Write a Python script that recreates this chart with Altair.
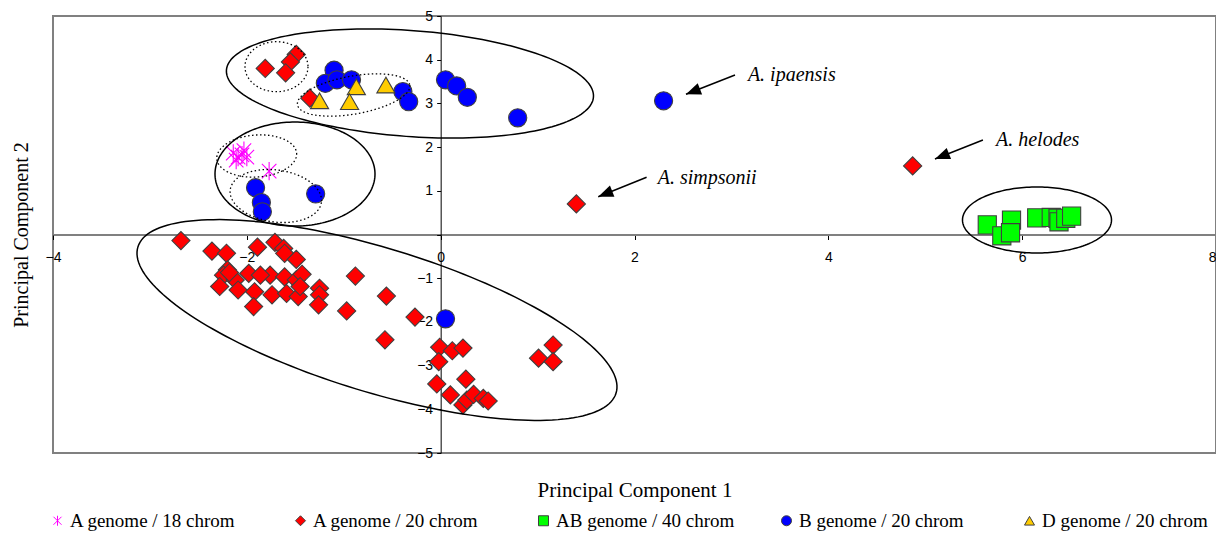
import altair as alt
import pandas as pd
import numpy as np

W, H = 1163, 437
X_DOM = [-4, 8]
Y_DOM = [-5, 5]
PX_X = W / (X_DOM[1] - X_DOM[0])
PX_Y = H / (Y_DOM[1] - Y_DOM[0])

groups = ["A genome / 18 chrom", "A genome / 20 chrom", "AB genome / 40 chrom",
          "B genome / 20 chrom", "D genome / 20 chrom"]

# A genome / 18 chrom (asterisks)
a18_x = [-2.14, -2.09, -2.05, -2.00, -2.11, -2.03, -1.77]
a18_y = [1.86, 1.77, 1.82, 1.77, 1.70, 1.92, 1.45]

# A genome / 20 chrom (diamonds)
a20_x = [-1.81, -1.49, -1.55, -1.60, -1.35, 1.40, 4.87,
         -2.68, -2.36, -2.21, -1.89, -1.71, -1.62, -1.61, -1.49, -2.20, -2.24, -2.12,
         -2.28, -2.09, -1.98, -1.92, -1.93, -1.76, -1.74, -1.61, -1.59, -1.49, -1.47,
         -1.43, -1.45, -1.25, -1.25, -1.26, -0.88, -0.97, -1.86, -2.18,
         -0.56, -0.265, -0.575, -0.01, 0.12, 0.23, -0.02, -0.04, 0.26, 0.10, 0.23,
         0.27, 0.34, 0.44, 0.49, 1.01, 1.16, 1.16]
a20_y = [3.80, 4.12, 3.95, 3.70, 3.12, 0.70, 1.57,
         -0.14, -0.38, -0.43, -0.29, -0.18, -0.32, -0.43, -0.57, -0.81, -0.93, -1.04,
         -1.19, -1.27, -0.89, -1.31, -1.65, -0.93, -1.38, -0.97, -1.35, -1.04, -1.42,
         -0.91, -1.19, -1.23, -1.38, -1.61, -0.95, -1.75, -0.93, -0.87,
         -1.41, -1.89, -2.41, -2.58, -2.66, -2.60, -2.91, -3.42, -3.31, -3.67, -3.90,
         -3.79, -3.66, -3.75, -3.81, -2.83, -2.53, -2.91]

# AB genome / 40 chrom (squares)
ab_x = [5.64, 5.89, 5.79, 5.88, 6.15, 6.30, 6.37, 6.38, 6.45, 6.51]
ab_y = [0.22, 0.33, -0.03, 0.04, 0.38, 0.39, 0.37, 0.29, 0.37, 0.42]

# B genome / 20 chrom (circles)
b_x = [-1.10, -1.19, -1.07, -0.92, -0.39, -0.33, 0.05, 0.165, 0.275, 0.795, 2.30,
       -1.91, -1.85, -1.84, -1.29, 0.05]
b_y = [3.76, 3.46, 3.54, 3.54, 3.27, 3.04, 3.54, 3.40, 3.14, 2.67, 3.06,
       1.07, 0.73, 0.52, 0.93, -1.93]

# D genome / 20 chrom (triangles)
d_x = [-1.25, -0.87, -0.94, -0.565]
d_y = [3.06, 3.38, 3.04, 3.42]

rows = []
for g, xs, ys in zip(groups, [a18_x, a20_x, ab_x, b_x, d_x], [a18_y, a20_y, ab_y, b_y, d_y]):
    rows += [{"pc1": x, "pc2": y, "group": g} for x, y in zip(xs, ys)]
pts = pd.DataFrame(rows)

# Ellipses: centre (data), semi-axes (px), rotation (deg, screen), style
ell_cx = [-0.317, -1.694, -0.898, -1.503, -1.898, -1.701, -0.657, 6.153]
ell_cy = [3.455, 3.840, 3.192, 1.384, 1.796, 0.881, -1.957, 0.332]
ell_a = [184, 31.5, 57, 80, 40, 46, 250, 74.5]
ell_b = [53, 25, 19, 52, 21, 26, 72, 33]
ell_ang = [4.2, 0, -10, 0, -4, 8, 17, 0]
ell_style = ["solid", "dotted", "dotted", "solid", "dotted", "dotted", "solid", "solid"]

erows = []
t = np.linspace(0, 2 * np.pi, 181)
for i, (cx, cy, a, b, ang, st) in enumerate(zip(ell_cx, ell_cy, ell_a, ell_b, ell_ang, ell_style)):
    th = np.radians(ang)
    dx = a * np.cos(t) * np.cos(th) - b * np.sin(t) * np.sin(th)
    dy = a * np.cos(t) * np.sin(th) + b * np.sin(t) * np.cos(th)
    for k in range(len(t)):
        erows.append({"e": i, "k": k, "style": st,
                      "pc1": cx + dx[k] / PX_X, "pc2": cy - dy[k] / PX_Y})
ell = pd.DataFrame(erows)

# Annotations
ann_text = ["A. ipaensis", "A. simpsonii", "A. helodes"]
ann_tx = [3.17, 2.24, 5.73]
ann_ty = [3.65, 1.29, 2.16]
arr_x1 = [3.037, 2.125, 5.595]
arr_y1 = [3.650, 1.309, 2.162]
arr_x2 = [2.531, 1.626, 5.100]
arr_y2 = [3.208, 0.865, 1.728]
angles = [float(np.degrees(np.arctan2(-(y2 - y1) * PX_Y, (x2 - x1) * PX_X)) % 360)
          for x1, y1, x2, y2 in zip(arr_x1, arr_y1, arr_x2, arr_y2)]
arr = pd.DataFrame({"pc1": arr_x1, "pc2": arr_y1, "x2": arr_x2, "y2": arr_y2})
heads_df = pd.DataFrame({"pc1": arr_x2, "pc2": arr_y2, "ang": angles})
ann = pd.DataFrame({"pc1": ann_tx, "pc2": ann_ty, "t": ann_text})

xscale = alt.Scale(domain=X_DOM, nice=False, zero=False)
yscale = alt.Scale(domain=Y_DOM, nice=False, zero=False)

STAR = "M-0.8,-0.8L0.8,0.8M-0.8,0.8L0.8,-0.8M0,-1L0,1"
shape_range = [STAR, "diamond", "square", "circle", "triangle-up"]
fill_range = ["#FF00FF", "#FF0000", "#00FF00", "#0000FF", "#FFCC00"]
stroke_range = ["#FF00FF", "#404040", "#404040", "#404040", "#404040"]

leg = alt.Legend(title=None, orient="none", legendX=-5, legendY=H + 58, direction="horizontal")

xaxis = alt.Axis(values=[-4, -2, 0, 2, 4, 6, 8], offset=-H / 2,
                 domainColor="#808080", domainWidth=2, tickColor="#000", tickSize=5,
                 labelPadding=11, labelFont="Liberation Sans", labelFontSize=14,
                 labelColor="#000", labelFlush=False, labelOverlap=False, grid=False,
                 labelAlign=alt.condition("datum.value == 8", alt.value("right"), alt.value("center")),
                 title="Principal Component 1", titleFont="Liberation Serif",
                 titleFontSize=21, titleFontWeight="normal", titleColor="#000",
                 titleX=W / 2, titleY=H / 2 + 37, titleAlign="center", titleBaseline="middle")
yaxis = alt.Axis(values=list(range(-5, 6)), offset=-W / 3,
                 domainColor="#000", domainWidth=1, tickColor="#000", tickSize=4,
                 labelPadding=4, labelFont="Liberation Sans", labelFontSize=14,
                 labelColor="#000", labelFlush=False, labelOverlap=False, grid=False,
                 labelExpr="datum.value == 0 ? '' : datum.label",
                 title="Principal Component 2", titleFont="Liberation Serif",
                 titleFontSize=20, titleFontWeight="normal", titleColor="#000",
                 titleX=-W / 3 - 32, titleY=H / 2, titleAlign="center", titleBaseline="middle")

X = alt.X("pc1:Q", scale=xscale, axis=xaxis)
Y = alt.Y("pc2:Q", scale=yscale, axis=yaxis)

points = alt.Chart(pts).mark_point(filled=True, opacity=1, strokeWidth=1.1, size=330).encode(
    x=X, y=Y,
    shape=alt.Shape("group:N", scale=alt.Scale(domain=groups, range=shape_range), legend=leg),
    fill=alt.Fill("group:N", scale=alt.Scale(domain=groups, range=fill_range), legend=leg),
    stroke=alt.Stroke("group:N", scale=alt.Scale(domain=groups, range=stroke_range), legend=leg),
)

ell_solid = alt.Chart(ell).transform_filter("datum.style == 'solid'").mark_line(
    color="#000", strokeWidth=1.5).encode(x=X, y=Y, detail="e:N", order="k:Q")
ell_dot = alt.Chart(ell).transform_filter("datum.style == 'dotted'").mark_line(
    color="#000", strokeWidth=1.3, strokeDash=[1.5, 2.5]).encode(x=X, y=Y, detail="e:N", order="k:Q")

shafts = alt.Chart(arr).mark_rule(color="#000", strokeWidth=1.5).encode(
    x=X, y=Y, x2="x2:Q", y2="y2:Q")
heads = alt.Chart(heads_df).mark_point(filled=True, color="#000", opacity=1, size=225,
                                       shape="M0,0L-2,-0.8L-2,0.8Z").encode(
    x=X, y=Y, angle=alt.Angle("ang:Q", scale=None))
labels = alt.Chart(ann).mark_text(align="left", baseline="middle", font="Liberation Serif",
                                  fontStyle="italic", fontSize=20, color="#000").encode(
    x=X, y=Y, text="t:N")

chart = alt.layer(points, ell_solid, ell_dot, shafts, heads, labels).properties(
    width=W, height=H,
    padding={"left": 45, "top": 8, "right": 0, "bottom": 79},
    autosize=alt.AutoSizeParams(type="none"),
    background="white",
).configure_view(stroke="#808080", strokeWidth=2).configure_legend(
    symbolSize=100, symbolStrokeWidth=1, labelFont="Liberation Serif",
    labelFontSize=19, labelColor="#000", labelOffset=3, columnPadding=42,
    gridAlign="all", labelLimit=400)

chart.save("out.html", embed_options={"renderer": "svg", "actions": False})
